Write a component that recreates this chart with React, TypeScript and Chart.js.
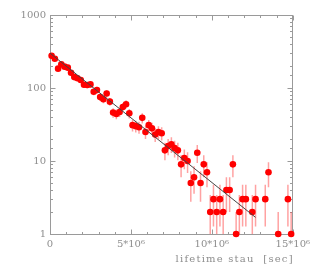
import React, { useEffect, useRef } from "react";
import { Chart, registerables } from "chart.js";

Chart.register(...registerables);

// Bin centres of the lifetime histogram, in units of 10^6 s
const BIN_CENTERS = [
  0.1, 0.3, 0.5, 0.7, 0.9, 1.1, 1.3, 1.5, 1.7, 1.9,
  2.1, 2.3, 2.5, 2.7, 2.9, 3.1, 3.3, 3.5, 3.7, 3.9,
  4.1, 4.3, 4.5, 4.7, 4.9, 5.1, 5.3, 5.5, 5.7, 5.9,
  6.1, 6.3, 6.5, 6.7, 6.9, 7.1, 7.3, 7.5, 7.7, 7.9,
  8.1, 8.3, 8.5, 8.7, 8.9, 9.1, 9.3, 9.5, 9.7, 9.9,
  10.1, 10.3, 10.5, 10.7, 10.9, 11.1, 11.3, 11.5, 11.7, 11.9,
  12.1, 12.3, 12.5, 12.7, 12.9, 13.1, 13.3, 13.5, 13.7, 13.9,
  14.1, 14.3, 14.5, 14.7, 14.9,
];

// Entries per bin (empty bins are null)
const COUNTS: (number | null)[] = [
  277, 252, 184, 211, 196, 190, 162, 141, 136, 129,
  111, 110, 112, 89, 94, 75, 70, 84, 65, 46,
  44, 47, 55, 60, 45, 31, 30, 29, 39, 25,
  31, 28, 23, 25, 24, 14, 16, 17, 15, 14,
  9, 11, 10, 5, 6, 13, 5, 9, 7, 2,
  3, 2, 3, 2, 4, 4, 9, 1, 2, 3,
  3, null, 2, 3, null, null, 3, 7, null, null,
  1, null, null, 3, 1,
];

// Exponential fit, drawn as a straight line on the log axis (end points)
const FIT_X = [0, 12.7];
const FIT_Y = [300, 1.69];

const X_MAJOR = [0, 5, 10, 15];
const X_TICK_LABELS = ["0", "5*10\u2076", "10*10\u2076", "15*10\u2076"];
const Y_MAJOR = [1, 10, 100, 1000];
const Y_TICK_LABELS = ["1", "10", "100", "1000"];
const X_TITLE = "lifetime stau  [sec]";

const AXIS_COLOR = "#9a9a9a";
const TEXT_COLOR = "#8e8e8e";
const FONT_FAMILY = "'DejaVu Serif', serif";

const framePlugin = {
  id: "frameTicks",
  beforeDatasetsDraw(chart: any) {
    const { ctx, chartArea: a, scales } = chart;
    const xs = scales.x;
    const ys = scales.y;
    const L = Math.floor(a.left) + 0.5;
    const R = Math.floor(a.right) + 0.5;
    const T = Math.floor(a.top) + 0.5;
    const B = Math.floor(a.bottom) + 0.5;
    ctx.save();
    ctx.strokeStyle = AXIS_COLOR;
    ctx.lineWidth = 1;
    ctx.strokeRect(L, T, R - L, B - T);
    ctx.beginPath();
    for (const t of xs.ticks) {
      const px = Math.round(xs.getPixelForValue(t.value)) + 0.5;
      const len = X_MAJOR.includes(t.value) ? 5 : 2.5;
      ctx.moveTo(px, B);
      ctx.lineTo(px, B - len);
      ctx.moveTo(px, T);
      ctx.lineTo(px, T + len);
    }
    for (const t of ys.ticks) {
      const py = Math.round(ys.getPixelForValue(t.value)) + 0.5;
      const len = Y_MAJOR.includes(t.value) ? 5 : 2.5;
      ctx.moveTo(L, py);
      ctx.lineTo(L + len, py);
      ctx.moveTo(R, py);
      ctx.lineTo(R - len, py);
    }
    ctx.stroke();

    // Poisson error bars (sqrt N)
    ctx.beginPath();
    ctx.rect(a.left, a.top, a.right - a.left, a.bottom - a.top);
    ctx.clip();
    ctx.strokeStyle = "rgba(255,70,70,0.5)";
    ctx.lineWidth = 1.5;
    ctx.beginPath();
    BIN_CENTERS.forEach((xv, i) => {
      const c = COUNTS[i];
      if (c == null) return;
      const e = Math.sqrt(c);
      const px = xs.getPixelForValue(xv);
      const pyHi = ys.getPixelForValue(c + e);
      const pyLo = c - e > 0 ? ys.getPixelForValue(c - e) : a.bottom;
      ctx.moveTo(px, pyHi);
      ctx.lineTo(px, pyLo);
    });
    ctx.stroke();
    ctx.restore();
  },
  afterDraw(chart: any) {
    const { ctx, chartArea: a } = chart;
    ctx.save();
    ctx.font = `10px ${FONT_FAMILY}`;
    ctx.fillStyle = TEXT_COLOR;
    ctx.textAlign = "right";
    ctx.textBaseline = "alphabetic";
    try {
      (ctx as any).letterSpacing = "1.2px";
    } catch (e) {}
    ctx.fillText(X_TITLE, a.right + 1, chart.height - 4);
    ctx.restore();
  },
};

export default function App() {
  const ref = useRef<HTMLCanvasElement | null>(null);

  useEffect(() => {
    document.body.style.margin = "0";
    const canvas = ref.current;
    if (!canvas) return;
    const points = BIN_CENTERS.map((x, i) => ({ x, y: COUNTS[i] }));
    const fit = FIT_X.map((x, i) => ({ x, y: FIT_Y[i] }));
    const chart = new Chart(canvas, {
      type: "scatter",
      data: {
        datasets: [
          {
            data: points as any,
            pointRadius: 3.3,
            pointHoverRadius: 3.3,
            pointBackgroundColor: "#ff0000",
            pointBorderColor: "#ff0000",
            pointBorderWidth: 0,
            showLine: false,
            clip: 4,
            order: 2,
          },
          {
            data: fit as any,
            showLine: true,
            pointRadius: 0,
            borderColor: "#444444",
            borderWidth: 1,
            fill: false,
            order: 1,
          } as any,
        ],
      },
      options: {
        animation: false,
        responsive: false,
        devicePixelRatio: 1,
        events: [],
        layout: { padding: { top: 15, right: 18, left: 0, bottom: 0 } },
        plugins: {
          legend: { display: false },
          tooltip: { enabled: false },
          title: { display: false },
        },
        scales: {
          x: {
            type: "linear",
            min: 0,
            max: 15,
            grid: { display: false, drawTicks: false },
            border: { display: false },
            ticks: {
              stepSize: 1,
              autoSkip: false,
              maxRotation: 0,
              padding: 4,
              color: TEXT_COLOR,
              font: { family: FONT_FAMILY, size: 10 },
              callback: (v: any) => {
                const k = X_MAJOR.indexOf(Number(v));
                return k >= 0 ? X_TICK_LABELS[k] : "";
              },
            },
            afterFit: (s: any) => {
              s.height = 32;
            },
          },
          y: {
            type: "logarithmic",
            min: 1,
            max: 1000,
            grid: { display: false, drawTicks: false },
            border: { display: false },
            ticks: {
              autoSkip: false,
              padding: 4,
              color: TEXT_COLOR,
              font: { family: FONT_FAMILY, size: 10 },
              callback: (v: any) => {
                const k = Y_MAJOR.indexOf(Number(v));
                return k >= 0 ? Y_TICK_LABELS[k] : "";
              },
            },
            afterFit: (s: any) => {
              s.width = 50;
            },
          },
        },
      },
      plugins: [framePlugin],
    });
    return () => chart.destroy();
  }, []);

  return (
    <canvas
      ref={ref}
      width={314}
      height={266}
      style={{ display: "block", width: 314, height: 266 }}
    />
  );
}
